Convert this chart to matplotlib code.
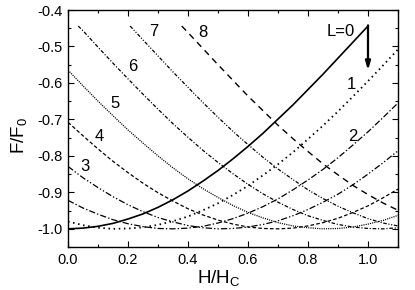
import matplotlib
matplotlib.use("Agg")
import matplotlib.pyplot as plt
from matplotlib.ticker import MultipleLocator, FormatStrFormatter

plt.rcParams['font.family'] = ['Liberation Sans', 'DejaVu Sans']
plt.rcParams['mathtext.fontset'] = 'custom'
plt.rcParams['mathtext.rm'] = 'Liberation Sans'
plt.rcParams['mathtext.it'] = 'Liberation Sans:italic'
plt.rcParams['axes.unicode_minus'] = False
plt.rcParams['lines.scale_dashes'] = False

# ---- data ----
H_GRID = [0.00, 0.05, 0.10, 0.15, 0.20, 0.25, 0.30, 0.35, 0.40, 0.45, 0.50, 0.55,
          0.60, 0.65, 0.70, 0.75, 0.80, 0.85, 0.90, 0.95, 1.00, 1.05, 1.10]

H_L0 = [0.00, 0.05, 0.10, 0.15, 0.20, 0.25, 0.30, 0.35, 0.40, 0.45, 0.50, 0.55,
        0.60, 0.65, 0.70, 0.75, 0.80, 0.85, 0.90, 0.95, 1.00]
F_L0 = [-1.000, -0.998, -0.993, -0.985, -0.973, -0.959, -0.941, -0.920, -0.896, -0.869,
        -0.840, -0.808, -0.774, -0.738, -0.699, -0.660, -0.618, -0.576, -0.532, -0.488, -0.444]

F_L1 = [-0.980, -0.990, -0.997, -1.000, -0.999, -0.996, -0.989, -0.979, -0.966, -0.949,
        -0.930, -0.907, -0.882, -0.853, -0.823, -0.790, -0.754, -0.717, -0.678, -0.637,
        -0.595, -0.552, -0.508]
F_L2 = [-0.922, -0.943, -0.960, -0.975, -0.986, -0.994, -0.999, -1.000, -0.998, -0.993,
        -0.984, -0.972, -0.957, -0.939, -0.918, -0.893, -0.866, -0.837, -0.805, -0.770,
        -0.734, -0.695, -0.655]
F_L3 = [-0.829, -0.860, -0.887, -0.912, -0.934, -0.953, -0.969, -0.981, -0.991, -0.997,
        -1.000, -0.999, -0.995, -0.988, -0.978, -0.964, -0.947, -0.927, -0.905, -0.879,
        -0.850, -0.819, -0.786]
F_L4 = [-0.708, -0.745, -0.781, -0.815, -0.846, -0.875, -0.901, -0.924, -0.945, -0.962,
        -0.976, -0.987, -0.995, -0.999, -1.000, -0.998, -0.992, -0.983, -0.971, -0.955,
        -0.937, -0.915, -0.891]
F_L5 = [-0.565, -0.608, -0.650, -0.690, -0.729, -0.765, -0.800, -0.833, -0.863, -0.890,
        -0.914, -0.936, -0.955, -0.970, -0.983, -0.992, -0.997, -1.000, -0.999, -0.995,
        -0.987, -0.977, -0.963]

H_L6 = [0.034, 0.05, 0.10, 0.15, 0.20, 0.25, 0.30, 0.35, 0.40, 0.45, 0.50, 0.55,
        0.60, 0.65, 0.70, 0.75, 0.80, 0.85, 0.90, 0.95, 1.00, 1.05, 1.10]
F_L6 = [-0.444, -0.457, -0.502, -0.546, -0.589, -0.631, -0.672, -0.712, -0.749, -0.785,
        -0.818, -0.849, -0.878, -0.904, -0.927, -0.947, -0.964, -0.977, -0.988, -0.995,
        -0.999, -1.000, -0.997]

H_L7 = [0.207, 0.25, 0.30, 0.35, 0.40, 0.45, 0.50, 0.55, 0.60, 0.65, 0.70, 0.75,
        0.80, 0.85, 0.90, 0.95, 1.00, 1.05, 1.10]
F_L7 = [-0.444, -0.482, -0.526, -0.570, -0.612, -0.654, -0.694, -0.733, -0.769, -0.804,
        -0.836, -0.865, -0.893, -0.917, -0.938, -0.956, -0.972, -0.984, -0.992]

H_L8 = [0.379, 0.40, 0.45, 0.50, 0.55, 0.60, 0.65, 0.70, 0.75, 0.80, 0.85, 0.90,
        0.95, 1.00, 1.05, 1.10]
F_L8 = [-0.444, -0.462, -0.506, -0.550, -0.593, -0.636, -0.676, -0.716, -0.753, -0.788,
        -0.822, -0.852, -0.881, -0.906, -0.929, -0.949]

LABELS = ["L=0", "1", "2", "3", "4", "5", "6", "7", "8"]
LABEL_POS = [(0.955, -0.460), (0.945, -0.605), (0.950, -0.748), (0.057, -0.830),
             (0.105, -0.748), (0.158, -0.656), (0.216, -0.555), (0.286, -0.460),
             (0.450, -0.461)]

# ---- figure ----
fig = plt.figure(figsize=(4.15, 2.90), dpi=100)
ax = fig.add_axes([0.164, 0.148, 0.795, 0.8175])

c = 'black'
lw = 0.9
ax.plot(H_L0, F_L0, color=c, lw=1.2, linestyle='-')
ax.plot(H_GRID, F_L1, color=c, lw=1.3, linestyle=(0, (1.1, 2.6)))
ax.plot(H_GRID, F_L2, color=c, lw=lw, linestyle=(0, (4.5, 1.5, 1.0, 1.5)))
ax.plot(H_GRID, F_L3, color=c, lw=lw, linestyle=(0, (4.5, 1.5, 1.0, 1.5, 1.0, 1.5)))
ax.plot(H_GRID, F_L4, color=c, lw=lw, linestyle=(0, (2.6, 1.6)))
ax.plot(H_GRID, F_L5, color=c, lw=lw, linestyle=(0, (0.8, 0.8)))
ax.plot(H_L6, F_L6, color=c, lw=lw, linestyle=(0, (2.6, 1.3, 0.8, 1.3)))
ax.plot(H_L7, F_L7, color=c, lw=lw, linestyle=(0, (2.6, 1.2, 0.8, 1.2, 0.8, 1.2)))
ax.plot(H_L8, F_L8, color=c, lw=1.0, linestyle=(0, (4.5, 3.5)))

for txt, (x, y) in zip(LABELS, LABEL_POS):
    ax.text(x, y, txt, fontsize=12, ha='right' if txt == "L=0" else 'center',
            va='center', color=c)

ax.annotate('', xy=(1.0, -0.565), xytext=(1.0, -0.442),
            arrowprops=dict(arrowstyle='-|>,head_length=0.5,head_width=0.15',
                            lw=1.6, color=c, shrinkA=0, shrinkB=0))

ax.set_xlim(0.0, 1.1)
ax.set_ylim(-1.05, -0.4)
ax.xaxis.set_major_locator(MultipleLocator(0.2))
ax.xaxis.set_minor_locator(MultipleLocator(0.1))
ax.yaxis.set_major_locator(MultipleLocator(0.1))
ax.yaxis.set_minor_locator(MultipleLocator(0.05))
ax.xaxis.set_major_formatter(FormatStrFormatter('%.1f'))
ax.yaxis.set_major_formatter(FormatStrFormatter('%.1f'))
ax.tick_params(which='both', direction='in', top=True, right=True,
               labelsize=10.5, width=0.8, pad=4)
ax.tick_params(which='major', length=4)
ax.tick_params(which='minor', length=2.5)
for s in ax.spines.values():
    s.set_linewidth(1.0)

ax.set_xlabel(r'H/H$_\mathrm{C}$', fontsize=13.5)
ax.set_ylabel(r'F/F$_\mathrm{0}$', fontsize=13.5)
ax.xaxis.set_label_coords(0.457, -0.09)
ax.yaxis.set_label_coords(-0.118, 0.47)

fig.savefig('out.png', dpi=100)
